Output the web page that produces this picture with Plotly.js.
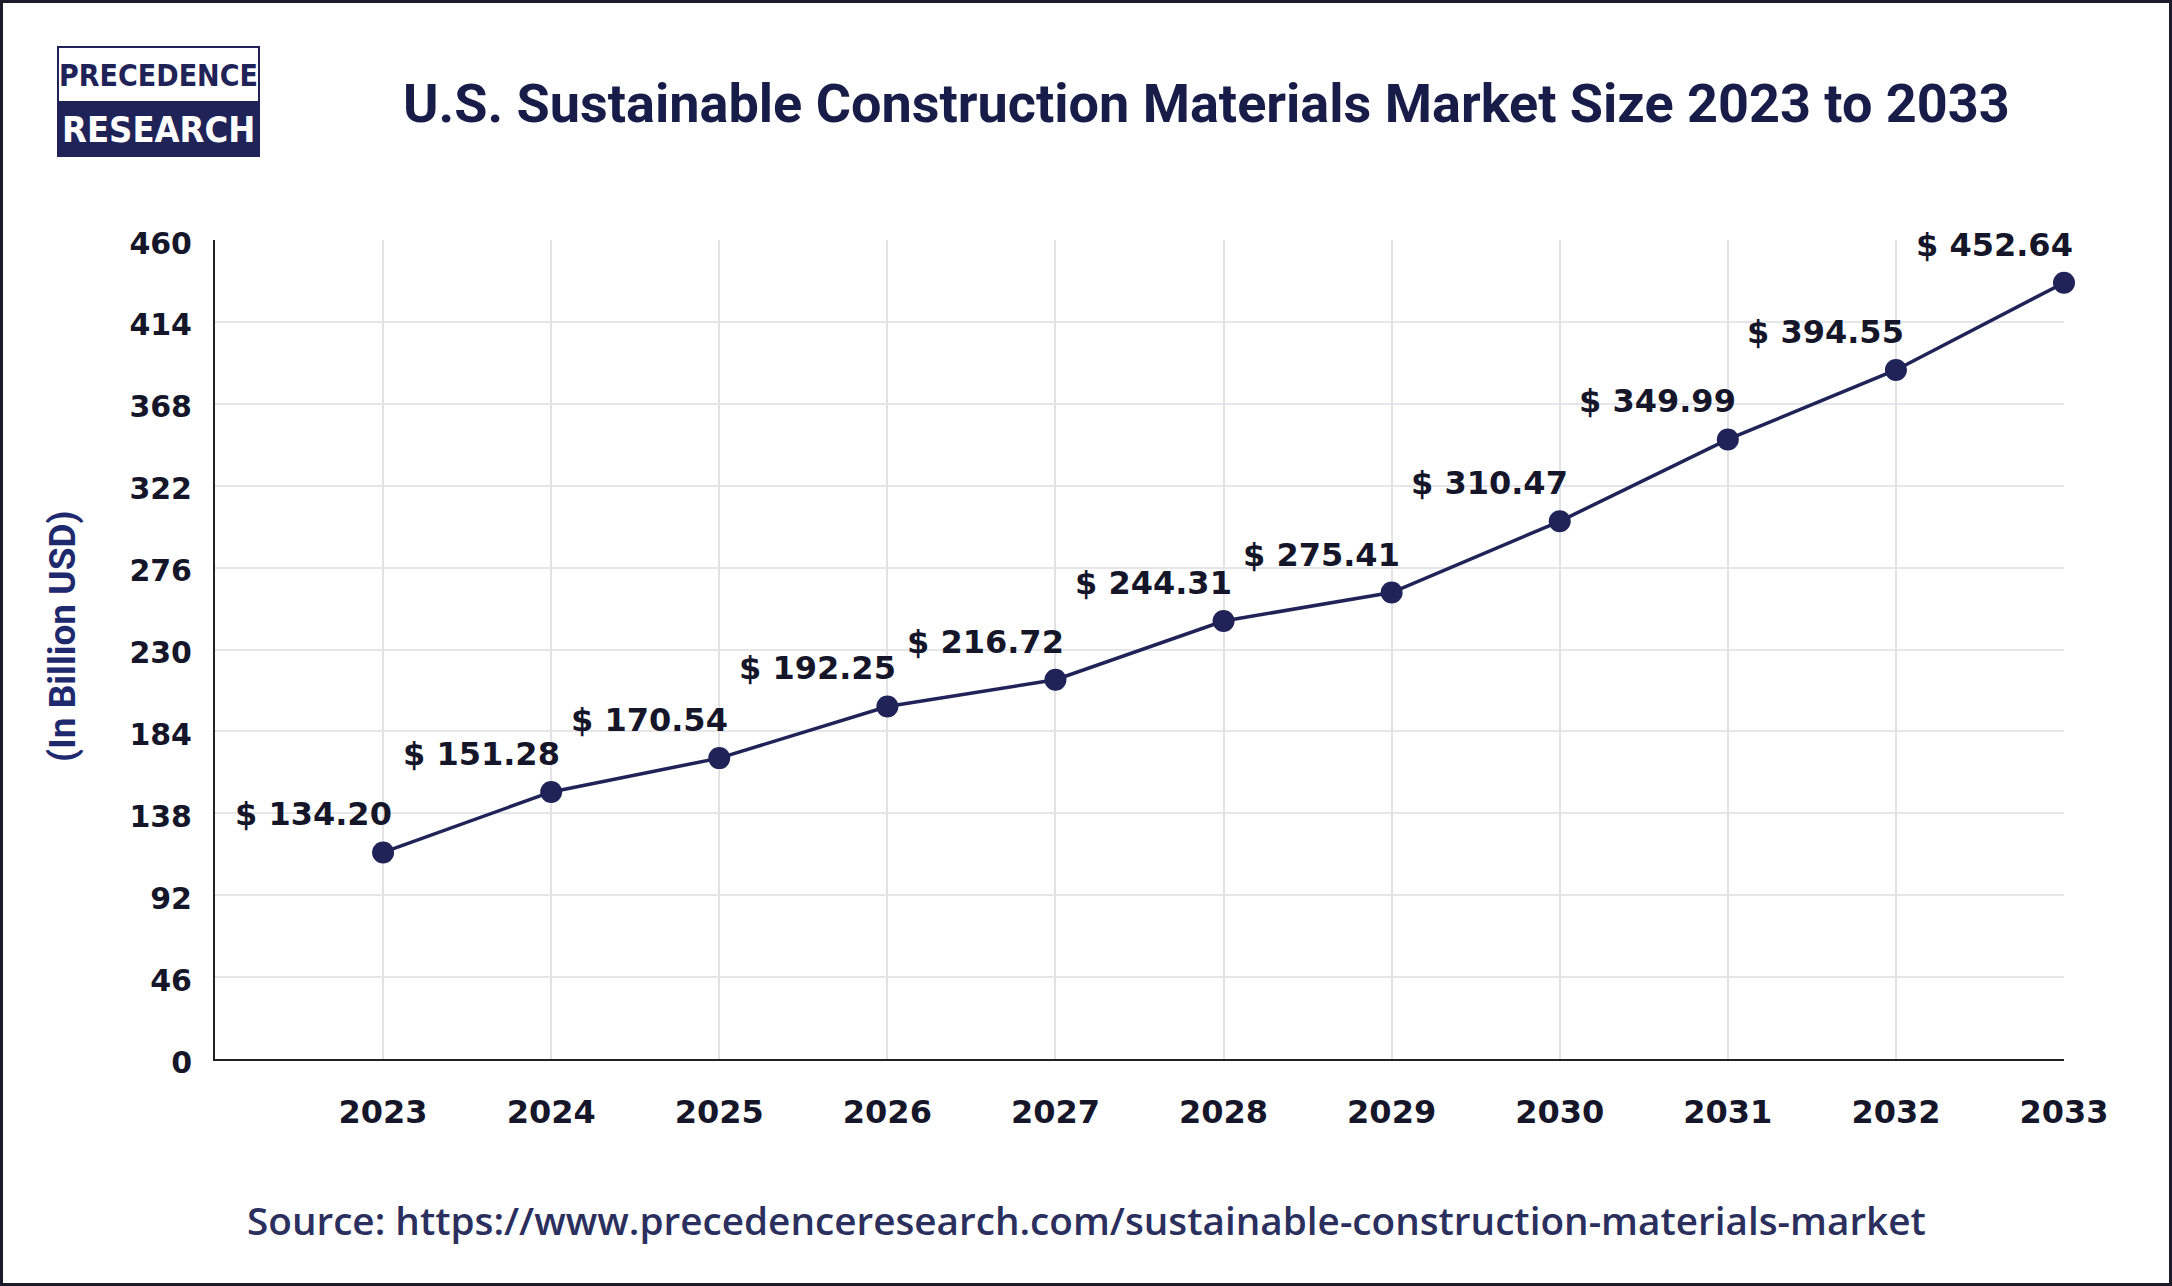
<!DOCTYPE html>
<html>
<head>
<meta charset="utf-8">
<script src="https://cdn.plot.ly/plotly-3.0.1.min.js"></script>
<style>
  html, body { margin: 0; padding: 0; background: #ffffff; }
  #chart { width: 2172px; height: 1286px; }
</style>
</head>
<body>
<div id="chart"></div>
<script>
// ---- data ----
const years = [2023, 2024, 2025, 2026, 2027, 2028, 2029, 2030, 2031, 2032, 2033];
// vertical level at which each point is drawn in the reference
const pointLevels = [116, 150, 169, 198, 213, 246, 262, 302, 348, 387, 436];
// value printed in each point's label
const labelValues = [134.20, 151.28, 170.54, 192.25, 216.72, 244.31, 275.41, 310.47, 349.99, 394.55, 452.64];
const yTickValues = [0, 46, 92, 138, 184, 230, 276, 322, 368, 414, 460];
const titleText = 'U.S. Sustainable Construction Materials Market Size 2023 to 2033';
const yTitleText = '(In Billion USD)';
const sourceText = 'Source: https://www.precedenceresearch.com/sustainable-construction-materials-market';

// ---- layout geometry ----
const W = 2172, H = 1286;
const L = 215, R = 2064, T = 240, B = 1059;
const px2x = p => (p - L) / (R - L);
const px2y = p => (B - p) / (B - T);

const navy = '#1f2357';
const dark = '#15162a';
const numFont = 'DejaVu Sans, Verdana, sans-serif';
const logoFont = 'Liberation Sans Narrow, DejaVu Sans Condensed, Roboto, sans-serif';

const labelAnnotations = years.map((yr, i) => ({
  x: yr, y: pointLevels[i], xref: 'x', yref: 'y',
  text: '$ ' + labelValues[i].toFixed(2),
  showarrow: false, xshift: -70, yshift: 38,
  font: { family: numFont, size: 32, color: dark, weight: 700 }
}));

const otherAnnotations = [
  { xref: 'paper', yref: 'paper', x: px2x(1206), y: px2y(104), xanchor: 'center', yanchor: 'middle',
    text: titleText, showarrow: false,
    font: { family: 'Roboto, sans-serif', size: 54, color: '#181c48', weight: 700 } },
  { xref: 'paper', yref: 'paper', x: px2x(1086), y: px2y(1220), xanchor: 'center', yanchor: 'middle',
    text: sourceText, showarrow: false,
    font: { family: 'Open Sans, sans-serif', size: 38.7, color: '#2b2f5e', weight: 600 } },
  { xref: 'paper', yref: 'paper', x: px2x(62), y: px2y(636), xanchor: 'center', yanchor: 'middle',
    text: yTitleText, showarrow: false, textangle: -90,
    font: { family: 'Roboto, sans-serif', size: 37, color: '#1f2a6e', weight: 700 } },
  { xref: 'paper', yref: 'paper', x: px2x(158.5), y: px2y(75), xanchor: 'center', yanchor: 'middle',
    text: 'PRECEDENCE', showarrow: false,
    font: { family: logoFont, size: 30, color: navy, weight: 700 } },
  { xref: 'paper', yref: 'paper', x: px2x(158.5), y: px2y(129), xanchor: 'center', yanchor: 'middle',
    text: 'RESEARCH', showarrow: false,
    font: { family: logoFont, size: 36, color: '#ffffff', weight: 700 } }
];

const shapes = [
  { type: 'rect', xref: 'paper', yref: 'paper', x0: px2x(1.5), x1: px2x(W - 1.5), y0: px2y(1.5), y1: px2y(H - 1.5),
    line: { color: '#1b1b2b', width: 3 }, fillcolor: 'rgba(0,0,0,0)', layer: 'above' },
  { type: 'rect', xref: 'paper', yref: 'paper', x0: px2x(58), x1: px2x(259), y0: px2y(47), y1: px2y(102),
    line: { color: navy, width: 2 }, fillcolor: '#ffffff', layer: 'below' },
  { type: 'rect', xref: 'paper', yref: 'paper', x0: px2x(58), x1: px2x(259), y0: px2y(102), y1: px2y(156),
    line: { color: navy, width: 2 }, fillcolor: navy, layer: 'below' }
];

const trace = {
  type: 'scatter', mode: 'lines+markers',
  x: years, y: pointLevels,
  line: { color: navy, width: 3.5 },
  marker: { color: navy, size: 22 },
  hoverinfo: 'skip', cliponaxis: false
};

const layout = {
  width: W, height: H,
  margin: { l: L, r: W - R, t: T, b: H - B, pad: 0 },
  paper_bgcolor: '#ffffff', plot_bgcolor: '#ffffff',
  showlegend: false,
  xaxis: {
    range: [2022, 2033], tickvals: years, ticktext: years.map(String),
    showgrid: true, gridcolor: '#e2e2e6', gridwidth: 2,
    zeroline: false, showline: true, linecolor: '#222222', linewidth: 2,
    ticks: '', ticklabelstandoff: 24,
    tickfont: { family: numFont, size: 32, color: dark, weight: 700 }
  },
  yaxis: {
    range: [0, 460], tickvals: yTickValues, ticktext: yTickValues.map(String),
    showgrid: true, gridcolor: '#e6e6ea', gridwidth: 2,
    zeroline: false, showline: true, linecolor: '#222222', linewidth: 2,
    ticks: '', ticklabelstandoff: 15, ticklabelshift: 3,
    tickfont: { family: numFont, size: 30, color: dark, weight: 700 }
  },
  annotations: labelAnnotations.concat(otherAnnotations),
  shapes: shapes
};

Plotly.newPlot('chart', [trace], layout, { staticPlot: true, displayModeBar: false });
</script>
</body>
</html>
